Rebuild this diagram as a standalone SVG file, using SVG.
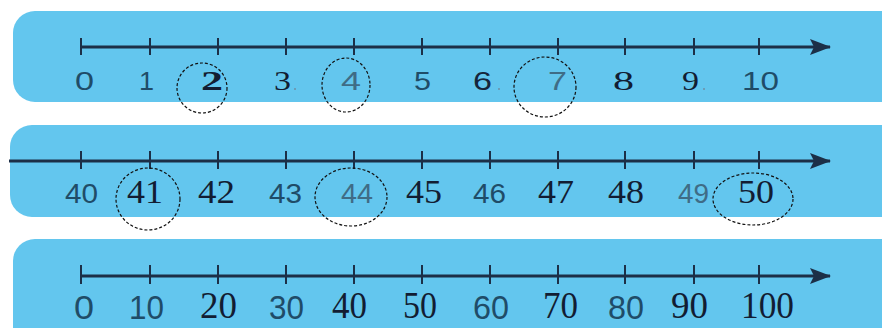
<svg xmlns="http://www.w3.org/2000/svg" width="882" height="328" viewBox="0 0 882 328">
<defs>
<marker id="arr" markerUnits="userSpaceOnUse" markerWidth="24" markerHeight="18" refX="20" refY="8" orient="auto">
<path d="M0,0 L21,8 L0,16 L4,8 Z" fill="#1c2f47"/>
</marker>
<style>
.band{fill:#63c6ee}
.ax{stroke:#1c2f47;stroke-width:3;fill:none}
.tk{stroke:#1c2f47;stroke-width:2}
.s{font-family:"Liberation Sans",Arial,sans-serif;fill:#1f4c68}
.r{font-family:"Liberation Serif","Times New Roman",serif;fill:#121d33}
.c{fill:none;stroke:#111;stroke-width:1.2;stroke-dasharray:3 2}
.dot{fill:#6d8fa6}
.g{fill:#3f6c86}
.k{fill:#15263c}
</style>
</defs>
<rect width="882" height="328" fill="#ffffff"/>

<g id="band1">
<rect class="band" x="13" y="11" width="890" height="91" rx="22"/>
</g>
<g id="band2">
<rect class="band" x="10" y="125" width="893" height="92" rx="22"/>
</g>
<g id="band3">
<rect class="band" x="13" y="239" width="890" height="110" rx="22"/>
</g>

<g id="connectors">
<line class="ax" x1="81" y1="47" x2="830" y2="47" marker-end="url(#arr)"/>
<line class="ax" x1="9" y1="161" x2="830" y2="161" marker-end="url(#arr)"/>
<line class="ax" x1="81" y1="276" x2="830" y2="276" marker-end="url(#arr)"/>
<path class="tk" d="M81,38V55M150,38V55M218,38V55M286,38V55M354,38V55M422,38V55M490,38V55M558,38V55M625,38V55M694,38V55M759,38V55"/>
<path class="tk" d="M81,151V169M150,151V169M218,151V169M286,151V169M354,151V169M422,151V169M490,151V169M558,151V169M625,151V169M694,151V169M759,151V169"/>
<path class="tk" d="M81,265V284M150,265V284M218,265V284M286,265V284M354,265V284M422,265V284M490,265V284M558,265V284M625,265V284M694,265V284M759,265V284"/>
</g>

<g id="row1-labels">
<text class="s" x="75" y="90" font-size="25" textLength="19" lengthAdjust="spacingAndGlyphs">0</text>
<text class="s" x="139" y="90" font-size="25" textLength="15" lengthAdjust="spacingAndGlyphs">1</text>
<text class="r" x="201" y="90" font-size="28" font-weight="bold" textLength="22" lengthAdjust="spacingAndGlyphs">2</text>
<text class="r" x="274" y="90" font-size="28" textLength="17" lengthAdjust="spacingAndGlyphs">3</text><circle class="dot" cx="295" cy="89" r="1"/>
<text class="s g" x="341" y="90" font-size="25" textLength="20" lengthAdjust="spacingAndGlyphs">4</text>
<text class="s" x="414" y="90" font-size="25" textLength="17" lengthAdjust="spacingAndGlyphs">5</text>
<text class="s k" x="473" y="90" font-size="25" textLength="19" lengthAdjust="spacingAndGlyphs">6</text><circle class="dot" cx="499" cy="89" r="1"/>
<text class="s g" x="548" y="90" font-size="25" textLength="19" lengthAdjust="spacingAndGlyphs">7</text>
<text class="r" x="613" y="90" font-size="28" textLength="21" lengthAdjust="spacingAndGlyphs">8</text>
<text class="r" x="682" y="90" font-size="28" textLength="17" lengthAdjust="spacingAndGlyphs">9</text><circle class="dot" cx="704" cy="89" r="1"/>
<text class="s" x="742" y="90" font-size="25" textLength="37" lengthAdjust="spacingAndGlyphs">10</text>
</g>

<g id="row2-labels">
<text class="s" x="65" y="203" font-size="28" textLength="33" lengthAdjust="spacingAndGlyphs">40</text>
<text class="r" x="127" y="203" font-size="33" textLength="36" lengthAdjust="spacingAndGlyphs">41</text>
<text class="r" x="198" y="203" font-size="33" textLength="37" lengthAdjust="spacingAndGlyphs">42</text>
<text class="s" x="269" y="203" font-size="28" textLength="33" lengthAdjust="spacingAndGlyphs">43</text>
<text class="s g" x="341" y="203" font-size="28" textLength="32" lengthAdjust="spacingAndGlyphs">44</text>
<text class="r" x="406" y="203" font-size="33" textLength="36" lengthAdjust="spacingAndGlyphs">45</text>
<text class="s" x="473" y="203" font-size="28" textLength="33" lengthAdjust="spacingAndGlyphs">46</text>
<text class="r" x="538" y="203" font-size="33" textLength="36" lengthAdjust="spacingAndGlyphs">47</text>
<text class="r" x="608" y="203" font-size="33" textLength="36" lengthAdjust="spacingAndGlyphs">48</text>
<text class="s g" x="678" y="203" font-size="28" textLength="31" lengthAdjust="spacingAndGlyphs">49</text>
<text class="r" x="738" y="203" font-size="33" textLength="36" lengthAdjust="spacingAndGlyphs">50</text>
</g>

<g id="row3-labels">
<text class="s" x="74" y="319" font-size="33" textLength="20" lengthAdjust="spacingAndGlyphs">0</text>
<text class="s" x="129" y="319" font-size="33" textLength="35" lengthAdjust="spacingAndGlyphs">10</text>
<text class="r" x="200" y="318" font-size="37" textLength="37" lengthAdjust="spacingAndGlyphs">20</text>
<text class="s" x="269" y="319" font-size="33" textLength="35" lengthAdjust="spacingAndGlyphs">30</text>
<text class="r" x="332" y="318" font-size="37" textLength="35" lengthAdjust="spacingAndGlyphs">40</text>
<text class="r" x="403" y="318" font-size="37" textLength="34" lengthAdjust="spacingAndGlyphs">50</text>
<text class="s" x="473" y="319" font-size="33" textLength="36" lengthAdjust="spacingAndGlyphs">60</text>
<text class="r" x="543" y="318" font-size="37" textLength="35" lengthAdjust="spacingAndGlyphs">70</text>
<text class="s" x="608" y="319" font-size="33" textLength="36" lengthAdjust="spacingAndGlyphs">80</text>
<text class="r" x="671" y="318" font-size="37" textLength="37" lengthAdjust="spacingAndGlyphs">90</text>
<text class="r" x="741" y="318" font-size="37" textLength="53" lengthAdjust="spacingAndGlyphs">100</text>
</g>

<g id="circles">
<ellipse class="c" cx="202" cy="88" rx="25" ry="25"/>
<ellipse class="c" cx="346" cy="85" rx="24" ry="27"/>
<ellipse class="c" cx="545" cy="87" rx="31" ry="30"/>
<ellipse class="c" cx="148" cy="199" rx="32" ry="31"/>
<ellipse class="c" cx="351" cy="197" rx="36" ry="29"/>
<ellipse class="c" cx="753" cy="199" rx="40" ry="26"/>
</g>
</svg>
